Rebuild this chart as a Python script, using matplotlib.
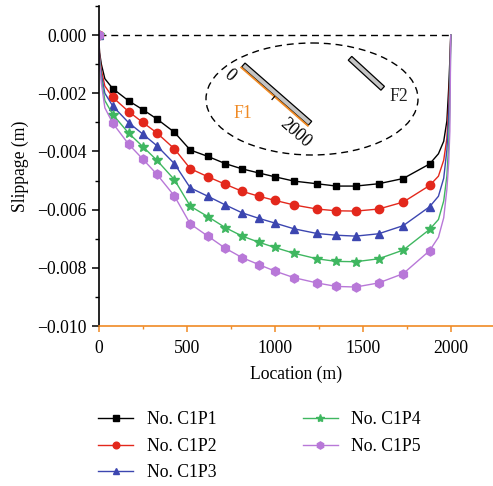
import matplotlib
matplotlib.use("Agg")
import matplotlib.pyplot as plt
from matplotlib.patches import Ellipse, Polygon
from matplotlib.ticker import MultipleLocator, FuncFormatter
import numpy as np

plt.rcParams["font.family"] = ["Liberation Serif", "DejaVu Serif"]
plt.rcParams["font.size"] = 12.7

# marker locations along the fault (m)
marker_x = [0, 80, 170, 250, 330, 430, 520, 620, 720, 815, 910, 1000,
            1110, 1240, 1350, 1460, 1590, 1730, 1880]
left_x = [5, 15, 35]
right_x = [1930, 1960, 1978, 1988, 1995, 2000]

# slippage in units of 1e-3 m
c1p1 = [0, -1.84, -2.26, -2.56, -2.88, -3.34, -3.95, -4.17, -4.42, -4.60, -4.74,
        -4.87, -5.02, -5.11, -5.19, -5.19, -5.11, -4.93, -4.43]
c1p2 = [0, -2.14, -2.63, -3.00, -3.36, -3.91, -4.59, -4.87, -5.13, -5.37, -5.54,
        -5.68, -5.84, -5.98, -6.04, -6.05, -5.98, -5.74, -5.17]
c1p3 = [0, -2.44, -3.01, -3.40, -3.80, -4.42, -5.25, -5.54, -5.84, -6.11, -6.30,
        -6.46, -6.66, -6.82, -6.88, -6.91, -6.83, -6.55, -5.90]
c1p4 = [0, -2.73, -3.37, -3.83, -4.30, -4.97, -5.88, -6.24, -6.62, -6.91, -7.12,
        -7.30, -7.50, -7.69, -7.78, -7.79, -7.69, -7.39, -6.68]
c1p5 = [0, -3.03, -3.75, -4.26, -4.78, -5.53, -6.49, -6.91, -7.33, -7.65, -7.89,
        -8.11, -8.34, -8.52, -8.64, -8.66, -8.52, -8.20, -7.41]

c1p1_left = [-0.60, -1.00, -1.50]
c1p2_left = [-0.70, -1.20, -1.75]
c1p3_left = [-0.80, -1.35, -2.00]
c1p4_left = [-0.90, -1.50, -2.25]
c1p5_left = [-1.00, -1.65, -2.50]

c1p1_right = [-4.08, -3.65, -2.95, -1.85, -0.85, 0]
c1p2_right = [-4.85, -4.30, -3.55, -2.45, -1.35, 0]
c1p3_right = [-5.54, -4.92, -3.95, -2.80, -1.70, 0]
c1p4_right = [-6.34, -5.70, -4.85, -3.80, -2.50, 0]
c1p5_right = [-6.95, -6.28, -5.30, -4.40, -3.30, 0]

labels = ["No. C1P1", "No. C1P2", "No. C1P3", "No. C1P4", "No. C1P5"]
series = [(c1p1, c1p1_left, c1p1_right), (c1p2, c1p2_left, c1p2_right),
          (c1p3, c1p3_left, c1p3_right), (c1p4, c1p4_left, c1p4_right),
          (c1p5, c1p5_left, c1p5_right)]
colors = ["#000000", "#e3281c", "#3c46b0", "#3fb760", "#b878d8"]
markers = ["s", "o", "^", "*", "h"]
msizes = [5, 6, 6, 7.5, 6.5]

ORANGE = "#f08a24"

W, H = 493, 486
fig = plt.figure(figsize=(W / 100, H / 100), dpi=100)
ax = fig.add_axes([98.7 / W, 1 - 326 / H, 1 - 98.7 / W, (326 - 6) / H])

line_x = [marker_x[0]] + left_x + marker_x[1:] + right_x
mark_idx = [0] + list(range(1 + len(left_x), len(left_x) + len(marker_x)))

for (vals, lv, rv), lab, col, mk, ms in zip(series, labels, colors, markers, msizes):
    line_y = np.array([vals[0]] + lv + vals[1:] + rv) * 1e-3
    ax.plot(line_x, line_y, color=col, lw=1.0, marker=mk, ms=ms,
            markevery=mark_idx, label=lab)

ax.plot([0, 2000], [0, 0], color="black", lw=1.0, ls=(0, (5, 3.5)), zorder=1)

ax.set_xlim(0, 2240)
ax.set_ylim(-0.010, 0.001)
ax.xaxis.set_major_locator(MultipleLocator(500))
ax.xaxis.set_minor_locator(MultipleLocator(250))
ax.yaxis.set_major_locator(MultipleLocator(0.002))
ax.yaxis.set_minor_locator(MultipleLocator(0.001))
ax.yaxis.set_major_formatter(FuncFormatter(
    lambda v, p: "0.000" if abs(v) < 1e-9 else f"{v:.3f}".replace("-", "\u2212")))

for s in ["top", "right"]:
    ax.spines[s].set_visible(False)
ax.spines["left"].set_linewidth(1.2)
ax.spines["bottom"].set_linewidth(1.2)
ax.spines["bottom"].set_color(ORANGE)
ax.tick_params(axis="y", which="major", direction="out", length=5, width=1.1)
ax.tick_params(axis="y", which="minor", direction="out", length=3, width=1.0)
ax.tick_params(axis="x", which="major", direction="out", length=4, width=1.1,
               color=ORANGE, pad=6)
ax.tick_params(axis="x", which="minor", direction="out", length=2.5, width=1.0,
               color=ORANGE)
ax.set_xlabel("Location (m)", labelpad=6)
ax.set_ylabel("Slippage (m)", labelpad=6)

# sketch of the two faults, drawn in pixel space
ov = fig.add_axes([0, 0, 1, 1])
ov.set_xlim(0, W)
ov.set_ylim(H, 0)
ov.axis("off")

ov.add_patch(Ellipse((312, 99), 212, 112, fill=False, ec="black", lw=1.0,
                     ls=(0, (5, 3.5))))


def bar(p0, p1, half=2.6):
    p0, p1 = np.array(p0, float), np.array(p1, float)
    d = (p1 - p0) / np.linalg.norm(p1 - p0)
    n = np.array([-d[1], d[0]])
    pts = [p0 + n * half, p1 + n * half, p1 - n * half, p0 - n * half]
    ov.add_patch(Polygon(pts, closed=True, fc="#c4c4c4", ec="black", lw=0.9))
    return p0, p1, n


f1a, f1b, n1 = bar((243.3, 65), (310, 123.3))
ov.plot([f1a[0] + n1[0] * 3.3, f1b[0] + n1[0] * 3.3],
        [f1a[1] + n1[1] * 3.3, f1b[1] + n1[1] * 3.3], color=ORANGE, lw=1.3)
mid = (f1a + f1b) / 2
ov.plot([mid[0] + n1[0] * 3.3, mid[0] + n1[0] * 7],
        [mid[1] + n1[1] * 3.3, mid[1] + n1[1] * 7], color="black", lw=0.9)
bar((350, 58.3), (382.7, 88.3))

ov.text(229.3, 75, "0", rotation=-41, ha="center", va="center")
ov.text(295, 133.3, "2000", rotation=-41, ha="center", va="center")
ov.text(242.7, 113.3, "F1", color=ORANGE, ha="center", va="center")
ov.text(399.3, 96.7, "F2", color="#222222", ha="center", va="center")

leg = ax.legend(loc="upper left", bbox_to_anchor=(98 / W, 1 - 411 / H),
                bbox_transform=fig.transFigure, ncol=2, frameon=False,
                borderpad=0, borderaxespad=0, handlelength=2.0,
                handletextpad=0.75, columnspacing=4.9, labelspacing=0.55,
                markerscale=0.8)

fig.savefig("out.png", dpi=100)
